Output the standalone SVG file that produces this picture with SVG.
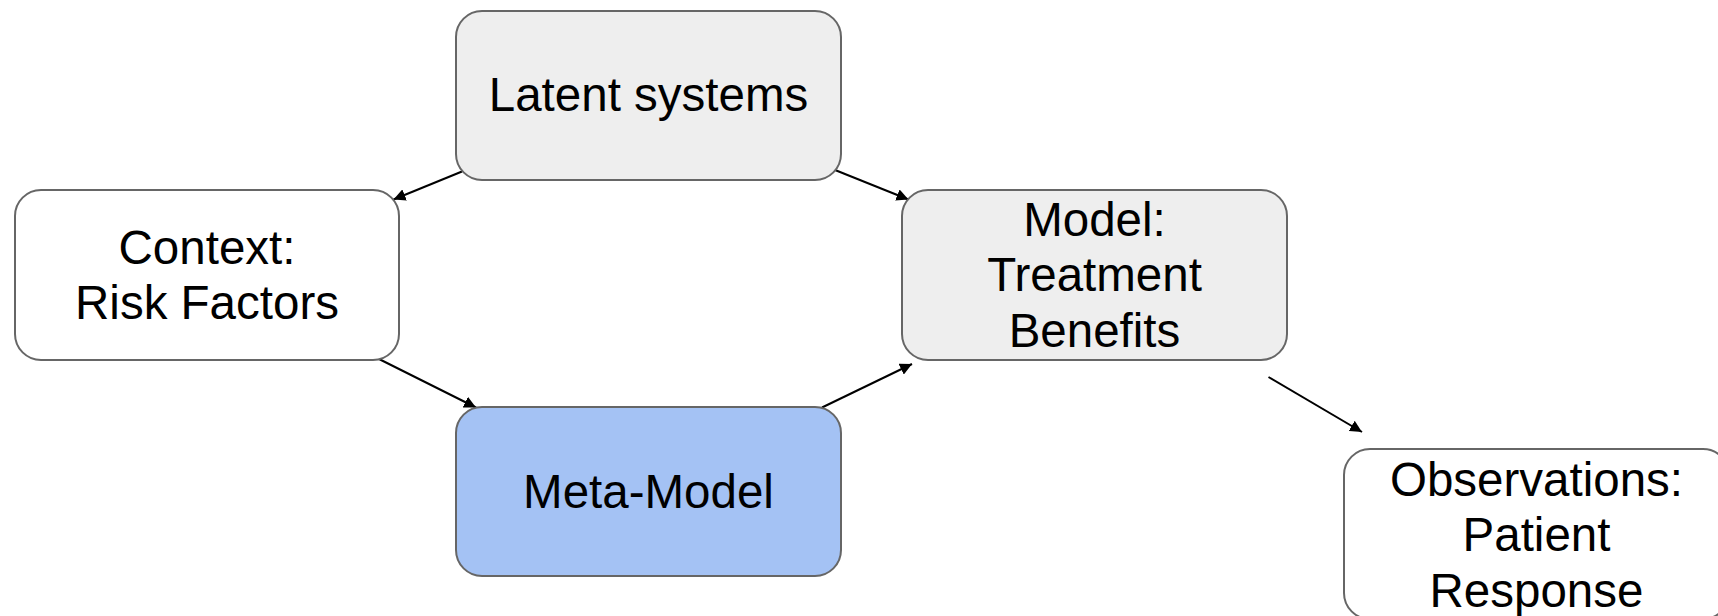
<svg xmlns="http://www.w3.org/2000/svg" width="1718" height="616" viewBox="0 0 1718 616">
<style>
.box{stroke:#666666;stroke-width:2}
.t{font-family:"Liberation Sans",Arial,sans-serif;font-size:47.5px;fill:#000;text-anchor:middle}
.c{stroke:#000;stroke-width:2;fill:none}
</style>
<defs>
<marker id="ah" viewBox="0 0 10 10" refX="10" refY="5" markerWidth="6" markerHeight="6" markerUnits="strokeWidth" orient="auto">
<path d="M0,0 L10,5 L0,10 z" fill="#000"/>
</marker>
</defs>
<rect width="1718" height="616" fill="#fff"/>
<g id="connectors">
<line class="c" x1="462" y1="171.5" x2="393.5" y2="199.5" marker-end="url(#ah)"/>
<line class="c" x1="835" y1="170" x2="908.5" y2="199.5" marker-end="url(#ah)"/>
<line class="c" x1="379" y1="359" x2="476" y2="407.5" marker-end="url(#ah)"/>
<line class="c" x1="822" y1="407.5" x2="912" y2="364" marker-end="url(#ah)"/>
<line class="c" x1="1268.5" y1="377" x2="1362" y2="432" marker-end="url(#ah)"/>
</g>
<g id="latent">
<rect class="box" x="456" y="11" width="385" height="169" rx="26" fill="#eeeeee"/>
<text class="t" x="648.5" y="111">Latent systems</text>
</g>
<g id="context">
<rect class="box" x="15" y="190" width="384" height="170" rx="26" fill="#ffffff"/>
<text class="t" x="207" y="263.5">Context:</text>
<text class="t" x="207" y="319">Risk Factors</text>
</g>
<g id="model">
<rect class="box" x="902" y="190" width="385" height="170" rx="26" fill="#eeeeee"/>
<text class="t" x="1094.5" y="235.5">Model:</text>
<text class="t" x="1094.5" y="291">Treatment</text>
<text class="t" x="1094.5" y="346.5">Benefits</text>
</g>
<g id="meta">
<rect class="box" x="456" y="407" width="385" height="169" rx="26" fill="#a4c2f4"/>
<text class="t" x="648.5" y="508">Meta-Model</text>
</g>
<g id="observations">
<rect class="box" x="1344" y="449" width="385" height="170" rx="26" fill="#ffffff"/>
<text class="t" x="1536.5" y="495.5">Observations:</text>
<text class="t" x="1536.5" y="551">Patient</text>
<text class="t" x="1536.5" y="606.5">Response</text>
</g>
</svg>
